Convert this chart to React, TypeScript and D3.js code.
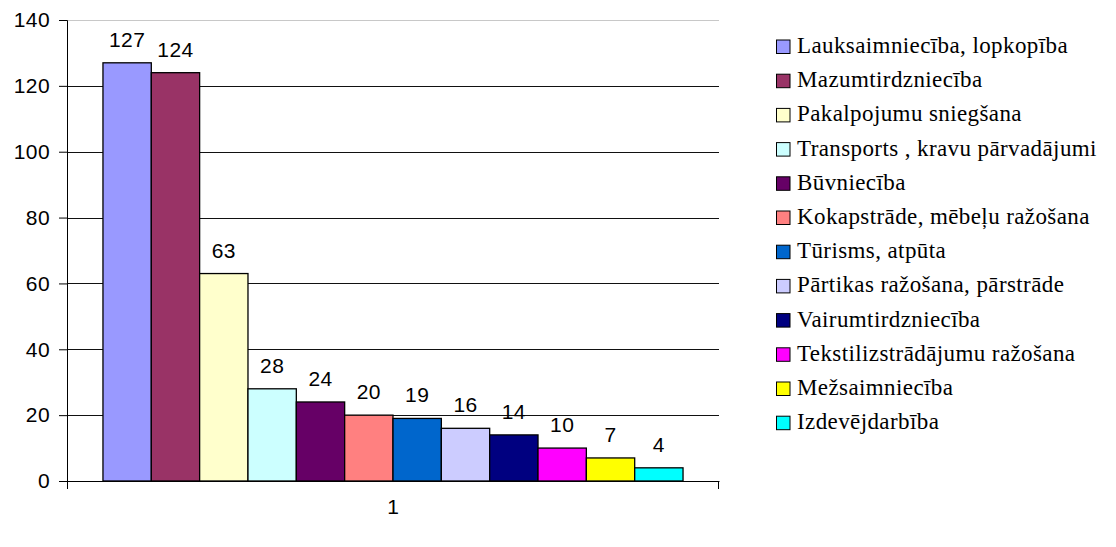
import { useEffect, useMemo, useRef } from 'react';
import * as d3 from 'd3';

const WIDTH = 1116;
const HEIGHT = 547;
const MARGIN = { top: 20, right: 397, bottom: 66, left: 67 };

const categories = ['1'];
const seriesNames = [
  'Lauksaimniecība, lopkopība',
  'Mazumtirdzniecība',
  'Pakalpojumu sniegšana',
  'Transports , kravu pārvadājumi',
  'Būvniecība',
  'Kokapstrāde, mēbeļu ražošana',
  'Tūrisms, atpūta',
  'Pārtikas ražošana, pārstrāde',
  'Vairumtirdzniecība',
  'Tekstilizstrādājumu ražošana',
  'Mežsaimniecība',
  'Izdevējdarbība',
];
const seriesValues = [127, 124, 63, 28, 24, 20, 19, 16, 14, 10, 7, 4];
const yTicks = [0, 20, 40, 60, 80, 100, 120, 140];
const COLORS = [
  '#9999FF', '#993366', '#FFFFCC', '#CCFFFF', '#660066', '#FF8080',
  '#0066CC', '#CCCCFF', '#000080', '#FF00FF', '#FFFF00', '#00FFFF',
];

const AXIS_FONT = "'Liberation Sans', Arial, sans-serif";
const LEGEND_FONT = "'Liberation Serif', 'DejaVu Serif', serif";

export default function App() {
  const axisLeftRef = useRef<SVGGElement>(null);
  const axisBottomRef = useRef<SVGGElement>(null);

  const innerWidth = WIDTH - MARGIN.left - MARGIN.right;
  const innerHeight = HEIGHT - MARGIN.top - MARGIN.bottom;

  const x0 = useMemo(
    () => d3.scaleBand().domain(categories).range([0, innerWidth]).paddingInner(0).paddingOuter(0.062),
    [innerWidth]
  );
  const x1 = useMemo(
    () => d3.scaleBand().domain(seriesNames).range([0, x0.bandwidth()]).padding(0),
    [x0]
  );
  const y = useMemo(
    () => d3.scaleLinear().domain([0, 140]).range([innerHeight, 0]),
    [innerHeight]
  );

  useEffect(() => {
    const gl = d3.select(axisLeftRef.current!);
    gl.call(d3.axisLeft(y).tickValues(yTicks).tickSize(8).tickPadding(9) as any);
    gl.select('.domain').attr('stroke', '#000');
    gl.selectAll('.tick line').attr('stroke', '#000');
    gl.selectAll('.tick text')
      .style('font-family', AXIS_FONT)
      .style('font-size', '21px')
      .style('letter-spacing', '0.4px')
      .attr('fill', '#000');
    gl.attr('font-family', null).attr('font-size', null);

    const gb = d3.select(axisBottomRef.current!);
    gb.call(d3.axisBottom(x0).tickSize(0).tickPadding(18) as any);
    gb.select('.domain').attr('stroke', '#000');
    gb.selectAll('.tick text')
      .style('font-family', AXIS_FONT)
      .style('font-size', '21px')
      .attr('fill', '#000');
    gb.attr('font-family', null).attr('font-size', null);
  }, [x0, y]);

  const groupX = x0(categories[0]) ?? 0;

  return (
    <svg
      width={WIDTH}
      height={HEIGHT}
      style={{ position: 'absolute', left: 0, top: 0, background: '#fff' }}
    >
      <g transform={`translate(${MARGIN.left},${MARGIN.top})`}>
        {yTicks.filter((t) => t > 0).map((t) => (
          <line
            key={`grid-${t}`}
            x1={0}
            x2={innerWidth}
            y1={Math.round(y(t)) + 0.5}
            y2={Math.round(y(t)) + 0.5}
            stroke={t === 140 ? '#c8c8c8' : '#111'}
            strokeWidth={1}
          />
        ))}
        {seriesNames.map((s, i) => (
          <rect
            key={s}
            x={groupX + (x1(s) ?? 0)}
            y={y(seriesValues[i])}
            width={x1.bandwidth()}
            height={innerHeight - y(seriesValues[i])}
            fill={COLORS[i]}
            stroke="#000"
            strokeWidth={1.3}
          />
        ))}
        {seriesNames.map((s, i) => (
          <text
            key={`${s}-label`}
            x={groupX + (x1(s) ?? 0) + x1.bandwidth() / 2}
            y={y(seriesValues[i]) - 16}
            textAnchor="middle"
            style={{ fontFamily: AXIS_FONT, fontSize: '21px', letterSpacing: '0.4px' }}
            fill="#000"
          >
            {seriesValues[i]}
          </text>
        ))}
        <g ref={axisBottomRef} transform={`translate(0,${innerHeight})`} />
        <line x1={0.5} x2={0.5} y1={innerHeight} y2={innerHeight + 8} stroke="#000" />
        <line x1={innerWidth - 0.5} x2={innerWidth - 0.5} y1={innerHeight} y2={innerHeight + 8} stroke="#000" />
        <g ref={axisLeftRef} />
      </g>
      <g transform="translate(776,39.5)">
        {seriesNames.map((s, i) => (
          <g key={`leg-${s}`} transform={`translate(0,${i * 34.2})`}>
            <rect x={0.5} y={0.5} width={13.5} height={13.5} fill={COLORS[i]} stroke="#000" strokeWidth={1} />
            <text
              x={21}
              y={13.5}
              style={{ fontFamily: LEGEND_FONT, fontSize: '23px', letterSpacing: '0.4px' }}
              fill="#000"
            >
              {s}
            </text>
          </g>
        ))}
      </g>
    </svg>
  );
}
